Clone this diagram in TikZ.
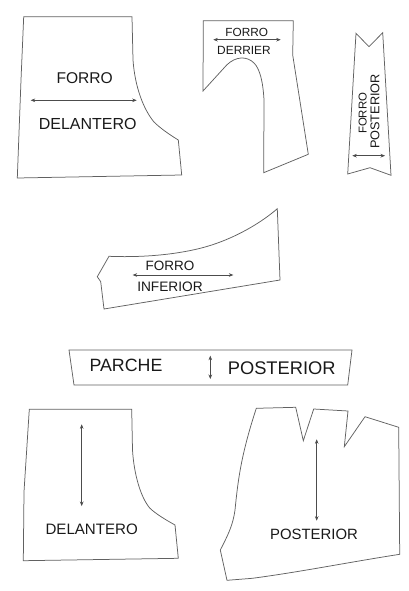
\documentclass[tikz,border=0pt]{standalone}
\usepackage{fontspec}
\setmainfont{Liberation Sans}
\usetikzlibrary{arrows.meta}
\tikzset{
  piece/.style={draw=black!62,line width=0.75pt,line join=miter},
  grain/.style={draw=black!70,line width=0.55pt,{Stealth[length=4.5pt,width=3.6pt]}-{Stealth[length=4.5pt,width=3.6pt]}},
  lbl/.style={inner sep=0pt,text=black!90},
}
\newcommand{\fsz}[1]{\fontsize{#1}{#1}\selectfont}
\begin{document}
\begin{tikzpicture}[x=1pt,y=-1pt]
\useasboundingbox (0,0) rectangle (409,591);
% FORRO DELANTERO
\draw[piece] (23.7,16.7) -- (132,16.7) -- (133,60) .. controls (135,88) and (144,110) .. (154,122) .. controls (160,128) and (170,135) .. (178.3,140) -- (181.7,175) -- (17.3,178) -- (21,80) -- cycle;
\node[lbl,font=\fsz{15.6}] (t1) at (84.7,78.3) {FORRO};
\node[lbl,font=\fsz{16}] (t2) at (87.7,124) {DELANTERO};
\coordinate (a1) at (30.7,100.3); \coordinate (b1) at (136.7,100.3);
\draw[grain] (a1) -- (b1);
% FORRO DERRIER
\draw[piece] (203.3,20.7) -- (293.3,20.7) -- (292.7,55) -- (308.3,154.3) -- (263.7,172.7) -- (264,100) .. controls (263,82) and (260,69) .. (254,63) .. controls (247,56) and (236,56) .. (226.7,65) -- (203,91) -- cycle;
\node[lbl,font=\fsz{11.8}] (t3) at (246.7,32.7) {FORRO};
\node[lbl,font=\fsz{11.9}] (t4) at (244,50.3) {DERRIER};
\coordinate (a2) at (213.3,39.7); \coordinate (b2) at (280.7,39.7);
\draw[grain] (a2) -- (b2);
% FORRO POSTERIOR
\draw[piece] (356,33.3) -- (369,46.7) -- (382.7,32.7) -- (391,175.3) -- (370,167.7) -- (347.7,174) -- cycle;
\node[lbl,font=\fsz{11.4},rotate=90] (t5) at (362.7,113.3) {FORRO};
\node[lbl,font=\fsz{12.7},rotate=90] (t6) at (375,111.5) {POSTERIOR};
\coordinate (a3) at (352.3,155.7); \coordinate (b3) at (385,155.7);
\draw[grain] (a3) -- (b3);
% FORRO INFERIOR
\draw[piece] (109,256.3) .. controls (150,258) and (190,253) .. (216.7,243.3) .. controls (240,235) and (262,222) .. (277.3,208.7) -- (280,280) -- (104,309) -- (100.7,281.7) -- (97.3,276.7) -- cycle;
\node[lbl,font=\fsz{13.5}] (t7) at (170,266.3) {FORRO};
\node[lbl,font=\fsz{13.7}] (t8) at (170,286.3) {INFERIOR};
\coordinate (a4) at (132.7,275); \coordinate (b4) at (233.3,275);
\draw[grain] (a4) -- (b4);
% PARCHE
\draw[piece] (69,350) -- (352,350) -- (347.7,385) -- (74,385) -- cycle;
\node[lbl,font=\fsz{17.8}] (t9) at (126,365.7) {PARCHE};
\node[lbl,font=\fsz{18.3}] (t10) at (281.7,368.3) {POSTERIOR};
\coordinate (a5) at (210.3,355.7); \coordinate (b5) at (210.3,379);
\draw[grain] (a5) -- (b5);
% DELANTERO
\draw[piece] (29.3,409.3) -- (131.7,409.3) -- (132.5,450) .. controls (134,475) and (141,498) .. (150,508.3) .. controls (156,514) and (166,520) .. (175,525) -- (178.3,558.3) -- (23.3,560.7) -- (24,491.7) -- cycle;
\node[lbl,font=\fsz{15.1}] (t11) at (91.7,529) {DELANTERO};
\coordinate (a6) at (81.7,424.3); \coordinate (b6) at (81.7,506);
\draw[grain] (a6) -- (b6);
% POSTERIOR
\draw[piece] (256.3,408.3) -- (295.7,407.3) -- (303.3,440.7) -- (313.7,409) -- (348,411) -- (344.3,446.7) -- (365,416.7) -- (398.7,427.3) -- (399.7,554.3) .. controls (350,562) and (300,572) .. (252.3,578.3) -- (227,580.3) -- (220.3,550) .. controls (228,535) and (233,525) .. (235,510) .. controls (238,480) and (241,455) .. (256.3,408.3) -- cycle;
\node[lbl,font=\fsz{14.9}] (t12) at (314,534.3) {POSTERIOR};
\coordinate (a7) at (316.7,439.3); \coordinate (b7) at (316.7,520.7);
\draw[grain] (a7) -- (b7);
\end{tikzpicture}
\end{document}
